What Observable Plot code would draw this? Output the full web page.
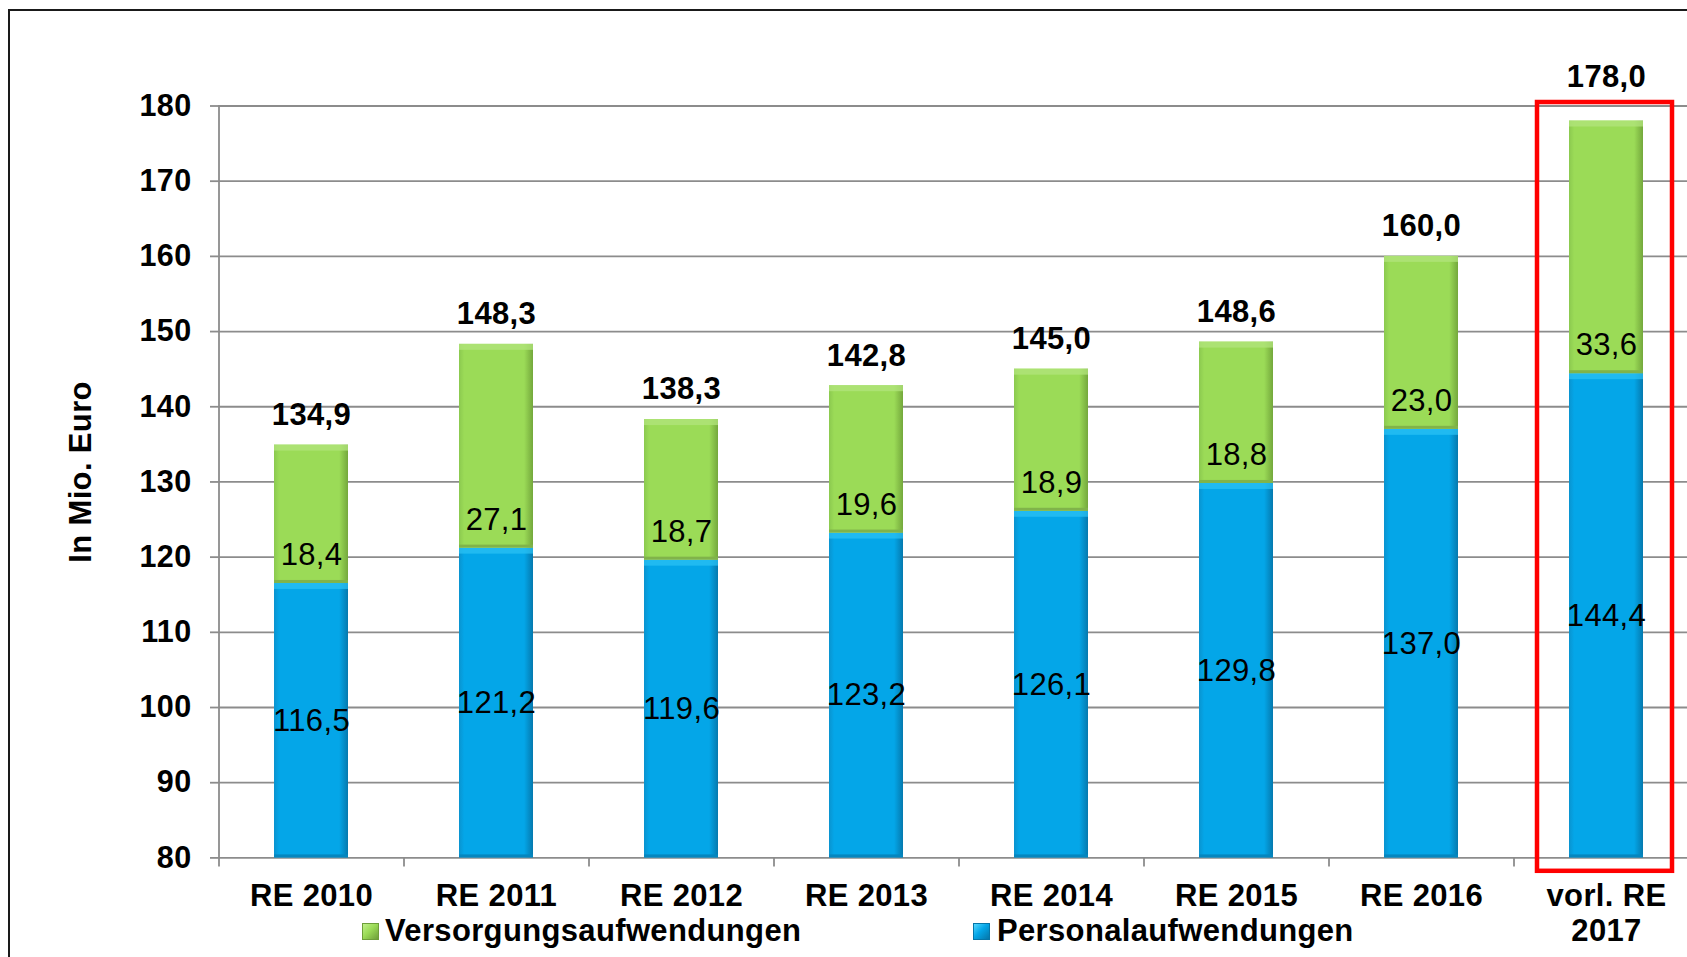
<!DOCTYPE html>
<html>
<head>
<meta charset="utf-8">
<script src="https://cdn.jsdelivr.net/npm/d3@7"></script>
<script src="https://cdn.jsdelivr.net/npm/@observablehq/plot@0.6"></script>
<style>
  html, body { margin: 0; padding: 0; background: #fff; }
  body { width: 1687px; height: 957px; overflow: hidden; position: relative; font-family: "Liberation Sans", Arial, sans-serif; }
  #frame { position: absolute; left: 8px; top: 9px; width: 2000px; height: 2000px; border-left: 2px solid #1a1a1a; border-top: 2px solid #1a1a1a; }
  #chart { position: absolute; left: 0; top: 0; }
  #chart text { letter-spacing: 0.35px; }
  #legend { position: absolute; left: 0; top: 916px; width: 1687px; height: 30px; font-size: 31px; font-weight: bold; line-height: 30px; letter-spacing: 0.35px; color: #000; }
  .item { position: absolute; top: 0; white-space: nowrap; }
  .sw { position: absolute; width: 15px; height: 15px; top: 7px; }
</style>
</head>
<body>
<div id="frame"></div>
<div id="chart"></div>
<div id="legend">
  <span class="sw" id="swG" style="left:362px;background:linear-gradient(135deg,#c0ef8a,#9bdb57 45%,#6e9e3a);border:1px solid #6e9e3a;"></span>
  <span class="item" id="lgG" style="left:385px;"></span>
  <span class="sw" id="swB" style="left:973px;background:linear-gradient(135deg,#56d8ff,#04a6e8 45%,#0575a8);border:1px solid #0575a8;"></span>
  <span class="item" id="lgB" style="left:997px;"></span>
</div>
<script>
// ---- data ----
const categories = ["RE 2010", "RE 2011", "RE 2012", "RE 2013", "RE 2014", "RE 2015", "RE 2016", "vorl. RE 2017"];
const categoryLabels = ["RE 2010", "RE 2011", "RE 2012", "RE 2013", "RE 2014", "RE 2015", "RE 2016", "vorl. RE\n2017"];
const personalaufwendungen = [116.5, 121.2, 119.6, 123.2, 126.1, 129.8, 137.0, 144.4];
const versorgungsaufwendungen = [18.4, 27.1, 18.7, 19.6, 18.9, 18.8, 23.0, 33.6];
const totals = [134.9, 148.3, 138.3, 142.8, 145.0, 148.6, 160.0, 178.0];
const yTicks = [80, 90, 100, 110, 120, 130, 140, 150, 160, 170, 180];
const highlighted = ["vorl. RE 2017"];
const seriesNames = ["Versorgungsaufwendungen", "Personalaufwendungen"];
const yAxisTitle = "In Mio. Euro";

// ---- build table ----
const yMin = yTicks[0], yMax = yTicks[yTicks.length - 1];
const rows = categories.map((c, i) => ({
  cat: c, label: categoryLabels[i],
  personal: personalaufwendungen[i], versorgung: versorgungsaufwendungen[i], total: totals[i]
}));
const fmt = v => v.toFixed(1).replace(".", ",");
const grid = "#8c8c8c";
const halfStep = 92.5;

const chart = Plot.plot({
  width: 1687,
  height: 957,
  marginLeft: 218,
  marginRight: -11,
  marginTop: 105.5,
  marginBottom: 99.6,
  style: { fontFamily: "'Liberation Sans', Arial, sans-serif", background: "transparent", color: "#000" },
  x: { domain: categories, paddingInner: 0.6, paddingOuter: 0.3, axis: null },
  y: { domain: [yMin, yMax], axis: null },
  marks: [
    Plot.ruleY(yTicks, { stroke: grid, strokeWidth: 1.8 }),
    Plot.axisY(yTicks, { tickSize: 8, tickPadding: 19, stroke: grid, strokeWidth: 1.8, fontSize: 30.5, fontWeight: "bold", tickFormat: d => String(d), label: null }),
    Plot.ruleX([categories[0]], { dx: -halfStep, y1: () => yMin, y2: () => yMax, stroke: grid, strokeWidth: 1.8 }),
    Plot.axisX(categories, { tickSize: 9, dx: -halfStep, stroke: grid, strokeWidth: 1.8, tickFormat: () => "", label: null }),
    // blue segments
    Plot.barY(rows, { x: "cat", y1: () => yMin, y2: "personal", fill: "url(#gradBlue)" }),
    Plot.barY(rows, { x: "cat", y1: "personal", y2: "personal", insetBottom: -6, fill: "#2cc3f5", fillOpacity: 0.7 }),
    Plot.barY(rows, { x: "cat", y1: () => yMin, y2: () => yMin, insetTop: -3, fill: "#0586bf" }),
    // green segments
    Plot.barY(rows, { x: "cat", y1: "personal", y2: "total", fill: "url(#gradGreen)" }),
    Plot.barY(rows, { x: "cat", y1: "total", y2: "total", insetBottom: -6, fill: "#b2e47c", fillOpacity: 0.75 }),
    Plot.barY(rows, { x: "cat", y1: "personal", y2: "personal", insetTop: -3, fill: "#80b34a" }),
    // highlight box
    Plot.barY(highlighted, { x: d => d, y1: () => yMin, y2: () => yMax, fill: "none", stroke: "#ff0000", strokeWidth: 4.5,
      insetLeft: -32, insetRight: -29, insetTop: -3.5, insetBottom: -13.4 }),
    // value labels
    Plot.text(rows, { x: "cat", y: d => (yMin + d.personal) / 2, text: d => fmt(d.personal), fontSize: 31, fill: "#000" }),
    Plot.text(rows, { x: "cat", y: "personal", dy: -28.5, text: d => fmt(d.versorgung), fontSize: 31, fill: "#000" }),
    Plot.text(rows.filter(d => !highlighted.includes(d.cat)), { x: "cat", y: "total", dy: -30, text: d => fmt(d.total), fontSize: 31, fontWeight: "bold", fill: "#000" }),
    Plot.text(rows.filter(d => highlighted.includes(d.cat)), { x: "cat", y: "total", dy: -44, text: d => fmt(d.total), fontSize: 31, fontWeight: "bold", fill: "#000" }),
    // category labels
    Plot.text(rows, { x: "cat", frameAnchor: "bottom", text: "label", lineAnchor: "top", dy: 23.5, lineHeight: 1.13, fontSize: 31, fontWeight: "bold", fill: "#000" }),
    // y axis title
    Plot.text([yAxisTitle], { frameAnchor: "left", textAnchor: "middle", dx: -137, dy: -10, rotate: -90, fontSize: 31, fontWeight: "bold", fill: "#000" })
  ]
});

// gradient defs for bevel-like bars
const ns = "http://www.w3.org/2000/svg";
const defs = document.createElementNS(ns, "defs");
function grad(id, stops) {
  const g = document.createElementNS(ns, "linearGradient");
  g.setAttribute("id", id);
  g.setAttribute("x1", "0"); g.setAttribute("x2", "1"); g.setAttribute("y1", "0"); g.setAttribute("y2", "0");
  for (const [o, c] of stops) {
    const s = document.createElementNS(ns, "stop");
    s.setAttribute("offset", o); s.setAttribute("stop-color", c);
    g.appendChild(s);
  }
  defs.appendChild(g);
}
grad("gradBlue", [["0", "#0a93cf"], ["0.07", "#04a6e8"], ["0.88", "#04a6e8"], ["1", "#0579ae"]]);
grad("gradGreen", [["0", "#8bc94f"], ["0.07", "#9bdb57"], ["0.88", "#9bdb57"], ["1", "#74a83c"]]);
chart.insertBefore(defs, chart.firstChild);
chart.style.overflow = "hidden";
document.getElementById("chart").appendChild(chart);

document.getElementById("lgG").textContent = seriesNames[0];
document.getElementById("lgB").textContent = seriesNames[1];
</script>
</body>
</html>
